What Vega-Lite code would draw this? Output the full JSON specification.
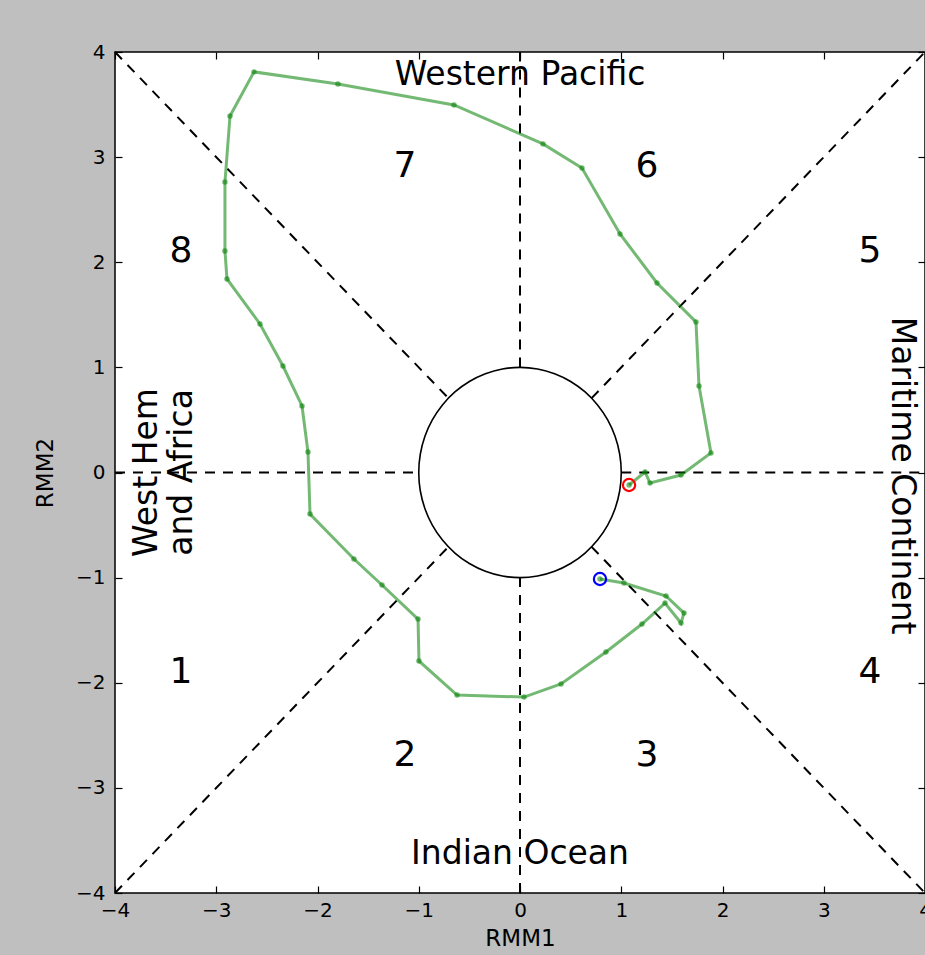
{
  "$schema": "https://vega.github.io/schema/vega-lite/v6.json",
  "width": 810,
  "height": 841,
  "autosize": {"type": "none"},
  "padding": {"left": 115, "top": 52, "right": 0, "bottom": 62},
  "background": "#bfbfbf",
  "config": {
    "view": {"fill": "white", "stroke": "black", "strokeWidth": 1.5},
    "font": "DejaVu Sans"
  },
  "datasets": {
    "segs": [
      {"x": -4, "y": -4, "x2": -0.7071, "y2": -0.7071},
      {"x": 0.7071, "y": 0.7071, "x2": 4, "y2": 4},
      {"x": -4, "y": 4, "x2": -0.7071, "y2": 0.7071},
      {"x": 0.7071, "y": -0.7071, "x2": 4, "y2": -4},
      {"x": -4, "y": 0, "x2": -1, "y2": 0},
      {"x": 1, "y": 0, "x2": 4, "y2": 0},
      {"x": 0, "y": -4, "x2": 0, "y2": -1},
      {"x": 0, "y": 1, "x2": 0, "y2": 4}
    ],
    "circle": [
      {"i": 0, "x": 1, "y": 0}, {"i": 1, "x": 0.9848, "y": 0.1736}, {"i": 2, "x": 0.9397, "y": 0.342},
      {"i": 3, "x": 0.866, "y": 0.5}, {"i": 4, "x": 0.766, "y": 0.6428}, {"i": 5, "x": 0.6428, "y": 0.766},
      {"i": 6, "x": 0.5, "y": 0.866}, {"i": 7, "x": 0.342, "y": 0.9397}, {"i": 8, "x": 0.1736, "y": 0.9848},
      {"i": 9, "x": 0, "y": 1}, {"i": 10, "x": -0.1736, "y": 0.9848}, {"i": 11, "x": -0.342, "y": 0.9397},
      {"i": 12, "x": -0.5, "y": 0.866}, {"i": 13, "x": -0.6428, "y": 0.766}, {"i": 14, "x": -0.766, "y": 0.6428},
      {"i": 15, "x": -0.866, "y": 0.5}, {"i": 16, "x": -0.9397, "y": 0.342}, {"i": 17, "x": -0.9848, "y": 0.1736},
      {"i": 18, "x": -1, "y": 0}, {"i": 19, "x": -0.9848, "y": -0.1736}, {"i": 20, "x": -0.9397, "y": -0.342},
      {"i": 21, "x": -0.866, "y": -0.5}, {"i": 22, "x": -0.766, "y": -0.6428}, {"i": 23, "x": -0.6428, "y": -0.766},
      {"i": 24, "x": -0.5, "y": -0.866}, {"i": 25, "x": -0.342, "y": -0.9397}, {"i": 26, "x": -0.1736, "y": -0.9848},
      {"i": 27, "x": 0, "y": -1}, {"i": 28, "x": 0.1736, "y": -0.9848}, {"i": 29, "x": 0.342, "y": -0.9397},
      {"i": 30, "x": 0.5, "y": -0.866}, {"i": 31, "x": 0.6428, "y": -0.766}, {"i": 32, "x": 0.766, "y": -0.6428},
      {"i": 33, "x": 0.866, "y": -0.5}, {"i": 34, "x": 0.9397, "y": -0.342}, {"i": 35, "x": 0.9848, "y": -0.1736}
    ],
    "traj": [
      {"i": 1, "x": 0.790, "y": -1.013},
      {"i": 2, "x": 1.027, "y": -1.051},
      {"i": 3, "x": 1.442, "y": -1.175},
      {"i": 4, "x": 1.620, "y": -1.337},
      {"i": 5, "x": 1.590, "y": -1.432},
      {"i": 6, "x": 1.432, "y": -1.242},
      {"i": 7, "x": 1.205, "y": -1.441},
      {"i": 8, "x": 0.849, "y": -1.708},
      {"i": 9, "x": 0.405, "y": -2.012},
      {"i": 10, "x": 0.040, "y": -2.136},
      {"i": 11, "x": -0.622, "y": -2.117},
      {"i": 12, "x": -0.998, "y": -1.793},
      {"i": 13, "x": -1.007, "y": -1.394},
      {"i": 14, "x": -1.363, "y": -1.070},
      {"i": 15, "x": -1.640, "y": -0.823},
      {"i": 16, "x": -2.074, "y": -0.395},
      {"i": 17, "x": -2.094, "y": 0.195},
      {"i": 18, "x": -2.153, "y": 0.633},
      {"i": 19, "x": -2.341, "y": 1.013},
      {"i": 20, "x": -2.568, "y": 1.413},
      {"i": 21, "x": -2.894, "y": 1.841},
      {"i": 22, "x": -2.914, "y": 2.107},
      {"i": 23, "x": -2.914, "y": 2.764},
      {"i": 24, "x": -2.864, "y": 3.392},
      {"i": 25, "x": -2.627, "y": 3.811},
      {"i": 26, "x": -1.798, "y": 3.696},
      {"i": 27, "x": -0.652, "y": 3.496},
      {"i": 28, "x": 0.227, "y": 3.126},
      {"i": 29, "x": 0.612, "y": 2.897},
      {"i": 30, "x": 0.988, "y": 2.269},
      {"i": 31, "x": 1.353, "y": 1.803},
      {"i": 32, "x": 1.738, "y": 1.432},
      {"i": 33, "x": 1.768, "y": 0.823},
      {"i": 34, "x": 1.886, "y": 0.186},
      {"i": 35, "x": 1.590, "y": -0.024},
      {"i": 36, "x": 1.284, "y": -0.100},
      {"i": 37, "x": 1.235, "y": 0.005},
      {"i": 38, "x": 1.077, "y": -0.119}
    ],
    "ends": [
      {"which": "start", "x": 0.790, "y": -1.013},
      {"which": "end", "x": 1.077, "y": -0.119}
    ],
    "phases": [
      {"t": "1", "x": -3.348, "y": -1.898},
      {"t": "2", "x": -1.136, "y": -2.688},
      {"t": "3", "x": 1.254, "y": -2.688},
      {"t": "4", "x": 3.457, "y": -1.898},
      {"t": "5", "x": 3.457, "y": 2.107},
      {"t": "6", "x": 1.254, "y": 2.916},
      {"t": "7", "x": -1.136, "y": 2.916},
      {"t": "8", "x": -3.348, "y": 2.107}
    ],
    "hlabels": [
      {"t": "Western Pacific", "x": 0, "y": 3.69},
      {"t": "Indian Ocean", "x": 0, "y": -3.72}
    ],
    "leftlabels": [
      {"t": "West Hem", "x": -3.68, "y": 0},
      {"t": "and Africa", "x": -3.34, "y": 0}
    ],
    "rightlabels": [
      {"t": "Maritime Continent", "x": 3.77, "y": -0.03}
    ]
  },
  "resolve": {"axis": {"x": "independent", "y": "independent"}},
  "layer": [
    {
      "data": {"name": "segs"},
      "mark": {"type": "rule", "color": "black", "strokeWidth": 2, "strokeDash": [10, 8]},
      "encoding": {
        "x": {"field": "x", "type": "quantitative",
          "scale": {"domain": [-4, 4], "nice": false, "zero": false},
          "axis": {"orient": "bottom", "values": [-4, -3, -2, -1, 0, 1, 2, 3, 4], "grid": false, "domain": false,
            "tickSize": -7, "tickColor": "black", "tickWidth": 1.2, "labelPadding": 14,
            "labelFont": "DejaVu Sans", "labelFontSize": 20, "labelColor": "black",
            "labelFlush": false, "labelOverlap": false, "labelBound": false,
            "title": "RMM1", "titleFont": "DejaVu Sans", "titleFontSize": 23, "titleFontWeight": "normal",
            "titleColor": "black", "titlePadding": 7}},
        "y": {"field": "y", "type": "quantitative",
          "scale": {"domain": [-4, 4], "nice": false, "zero": false},
          "axis": {"orient": "left", "values": [-4, -3, -2, -1, 0, 1, 2, 3, 4], "grid": false, "domain": false,
            "tickSize": -7, "tickColor": "black", "tickWidth": 1.2, "labelPadding": 17,
            "labelFont": "DejaVu Sans", "labelFontSize": 20, "labelColor": "black",
            "labelFlush": false, "labelOverlap": false, "labelBound": false,
            "title": "RMM2", "titleFont": "DejaVu Sans", "titleFontSize": 23, "titleFontWeight": "normal",
            "titleColor": "black", "titlePadding": 18}},
        "x2": {"field": "x2"},
        "y2": {"field": "y2"}
      }
    },
    {
      "data": {"name": "segs"},
      "mark": {"type": "rule", "opacity": 0},
      "encoding": {
        "x": {"field": "x", "type": "quantitative",
          "axis": {"orient": "top", "values": [-4, -3, -2, -1, 0, 1, 2, 3, 4], "grid": false, "domain": false,
            "tickSize": -7, "tickColor": "black", "tickWidth": 1.2, "labels": false, "title": null}},
        "y": {"field": "y", "type": "quantitative",
          "axis": {"orient": "right", "values": [-4, -3, -2, -1, 0, 1, 2, 3, 4], "grid": false, "domain": false,
            "tickSize": -7, "tickColor": "black", "tickWidth": 1.2, "labels": false, "title": null}},
        "x2": {"field": "x2"},
        "y2": {"field": "y2"}
      }
    },
    {
      "data": {"name": "circle"},
      "mark": {"type": "line", "color": "black", "strokeWidth": 1.6, "interpolate": "cardinal-closed"},
      "encoding": {
        "x": {"field": "x", "type": "quantitative", "axis": null},
        "y": {"field": "y", "type": "quantitative", "axis": null},
        "order": {"field": "i"}
      }
    },
    {
      "data": {"name": "traj"},
      "mark": {"type": "line", "color": "#008000", "opacity": 0.55, "strokeWidth": 3},
      "encoding": {
        "x": {"field": "x", "type": "quantitative", "axis": null},
        "y": {"field": "y", "type": "quantitative", "axis": null},
        "order": {"field": "i"}
      }
    },
    {
      "data": {"name": "traj"},
      "mark": {"type": "point", "filled": true, "shape": "circle", "color": "#008000", "opacity": 0.55, "size": 30},
      "encoding": {
        "x": {"field": "x", "type": "quantitative", "axis": null},
        "y": {"field": "y", "type": "quantitative", "axis": null}
      }
    },
    {
      "data": {"name": "ends"},
      "mark": {"type": "point", "filled": false, "shape": "circle", "size": 150, "strokeWidth": 2.2, "opacity": 1},
      "encoding": {
        "x": {"field": "x", "type": "quantitative", "axis": null},
        "y": {"field": "y", "type": "quantitative", "axis": null},
        "color": {"field": "which", "type": "nominal", "scale": {"domain": ["start", "end"], "range": ["#0000ff", "#ff0000"]}, "legend": null}
      }
    },
    {
      "data": {"name": "phases"},
      "mark": {"type": "text", "font": "DejaVu Sans", "fontSize": 36, "color": "black", "align": "center", "baseline": "middle"},
      "encoding": {
        "x": {"field": "x", "type": "quantitative", "axis": null},
        "y": {"field": "y", "type": "quantitative", "axis": null},
        "text": {"field": "t"}
      }
    },
    {
      "data": {"name": "hlabels"},
      "mark": {"type": "text", "font": "DejaVu Sans", "fontSize": 33, "color": "black", "align": "center", "baseline": "alphabetic"},
      "encoding": {
        "x": {"field": "x", "type": "quantitative", "axis": null},
        "y": {"field": "y", "type": "quantitative", "axis": null},
        "text": {"field": "t"}
      }
    },
    {
      "data": {"name": "leftlabels"},
      "mark": {"type": "text", "font": "DejaVu Sans", "fontSize": 33, "color": "black", "align": "center", "baseline": "middle", "angle": 270},
      "encoding": {
        "x": {"field": "x", "type": "quantitative", "axis": null},
        "y": {"field": "y", "type": "quantitative", "axis": null},
        "text": {"field": "t"}
      }
    },
    {
      "data": {"name": "rightlabels"},
      "mark": {"type": "text", "font": "DejaVu Sans", "fontSize": 33, "color": "black", "align": "center", "baseline": "middle", "angle": 90},
      "encoding": {
        "x": {"field": "x", "type": "quantitative", "axis": null},
        "y": {"field": "y", "type": "quantitative", "axis": null},
        "text": {"field": "t"}
      }
    }
  ]
}
